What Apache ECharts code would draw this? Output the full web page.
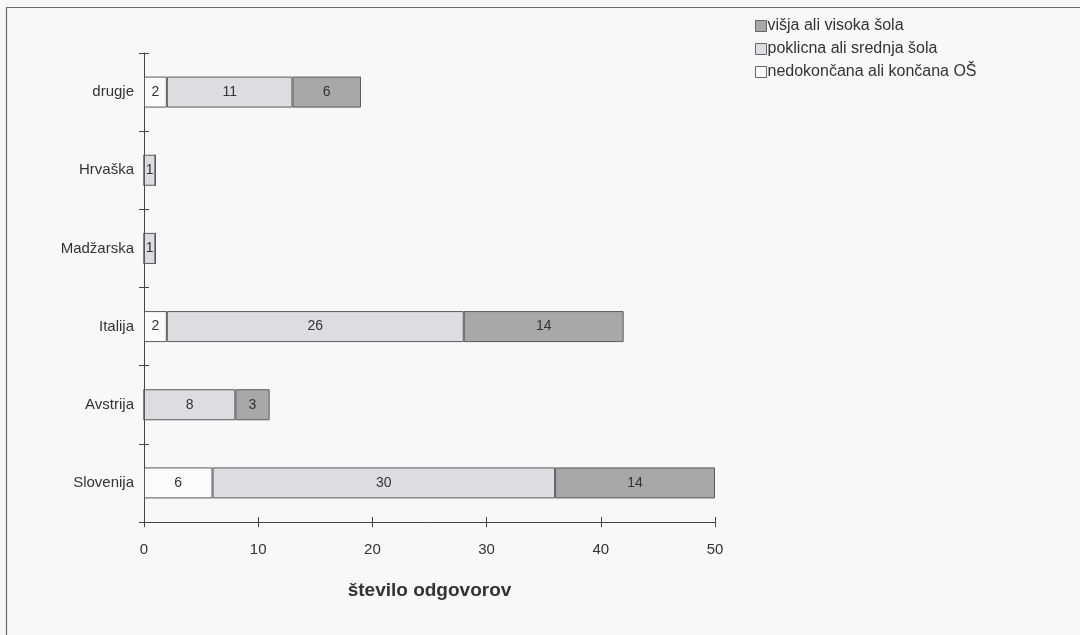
<!DOCTYPE html>
<html>
<head>
<meta charset="utf-8">
<script src="https://cdn.jsdelivr.net/npm/echarts@6/dist/echarts.min.js"></script>
<style>
html, body { margin: 0; padding: 0; background: #f8f8fa; }
#chart { width: 1080px; height: 635px; }
</style>
</head>
<body>
<div id="chart"></div>
<script>
// kategorije od spodaj navzgor
var drzave = ['Slovenija', 'Avstrija', 'Italija', 'Madžarska', 'Hrvaška', 'drugje'];
var osnovna = [6, 0, 2, 0, 0, 2];
var srednja = [30, 8, 26, 1, 1, 11];
var visoka = [14, 3, 14, 0, 0, 6];
var xTicks = [0, 10, 20, 30, 40, 50];

var font = 'Arial, Liberation Sans';
var barBorder = { borderColor: '#5a5a5c', borderWidth: 1 };
function mkSeries(name, data, color) {
    return {
        name: name,
        type: 'bar',
        stack: 'skupaj',
        barWidth: 31,
        data: data,
        itemStyle: Object.assign({ color: color }, barBorder),
        label: {
            show: true,
            position: 'inside',
            color: '#333',
            fontFamily: font,
            fontSize: 14,
            formatter: function (p) { return p.value > 0 ? p.value : ''; }
        }
    };
}

var chart = echarts.init(document.getElementById('chart'));
chart.setOption({
    backgroundColor: '#f8f8fa',
    animation: false,
    graphic: [{
        type: 'rect',
        shape: { x: 6.5, y: 7.5, width: 1090, height: 640 },
        style: { fill: 'none', stroke: '#6a6a6c', lineWidth: 1.2 }
    }],
    legend: {
        orient: 'vertical',
        left: 750,
        top: 13,
        icon: 'rect',
        itemWidth: 11,
        itemHeight: 11,
        itemGap: 7,
        data: ['višja ali visoka šola', 'poklicna ali srednja šola', 'nedokončana ali končana OŠ'],
        itemStyle: { borderColor: '#666', borderWidth: 1 },
        textStyle: { color: '#333', fontSize: 16, fontFamily: font, padding: [0, 0, 0, -4] }
    },
    grid: { left: 144, right: 365, top: 53, bottom: 113 },
    xAxis: [{
        type: 'value',
        min: xTicks[0],
        max: xTicks[xTicks.length - 1],
        interval: 10,
        name: 'število odgovorov',
        nameLocation: 'middle',
        nameGap: 59,
        nameTextStyle: { color: '#333', fontSize: 19, fontWeight: 'bold', fontFamily: font },
        axisLine: { show: true, lineStyle: { color: '#444' } },
        axisTick: { show: true, length: 5, lineStyle: { color: '#444' } },
        axisLabel: { color: '#333', fontSize: 15, margin: 20, fontFamily: font },
        splitLine: { show: false }
    }, {
        type: 'value',
        position: 'bottom',
        min: xTicks[0],
        max: xTicks[xTicks.length - 1],
        interval: 10,
        axisLine: { show: false },
        axisTick: { show: true, inside: true, length: 5, lineStyle: { color: '#444' } },
        axisLabel: { show: false },
        splitLine: { show: false }
    }],
    yAxis: [{
        type: 'category',
        data: drzave,
        axisLine: { lineStyle: { color: '#444' } },
        axisTick: { show: true, length: 5, lineStyle: { color: '#444' } },
        axisLabel: { color: '#333', fontSize: 15, margin: 10, fontFamily: font }
    }, {
        type: 'category',
        position: 'left',
        data: drzave,
        axisLine: { show: false },
        axisTick: { show: true, inside: true, length: 5, lineStyle: { color: '#444' } },
        axisLabel: { show: false }
    }],
    series: [
        mkSeries('nedokončana ali končana OŠ', osnovna, '#fbfbfc'),
        mkSeries('poklicna ali srednja šola', srednja, '#dcdde1'),
        mkSeries('višja ali visoka šola', visoka, '#a8a8ab')
    ]
});
</script>
</body>
</html>
